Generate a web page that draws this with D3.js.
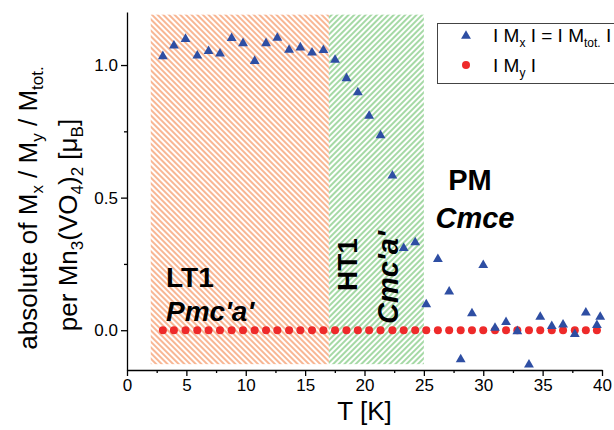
<!DOCTYPE html>
<html>
<head>
<meta charset="UTF-8">
<title>Mn3(VO4)2 moments</title>
<script src="https://cdn.jsdelivr.net/npm/d3@7"></script>
<style>
  body { margin: 0; background: #fff; }
  svg text { font-family: "Liberation Sans", Arial, sans-serif; }
  .axis path, .axis line { stroke: #000; stroke-width: 1.3; }
  .axis text { font-size: 17px; fill: #000; }
</style>
</head>
<body>
<div id="root"></div>
<script>
// temperatures (K)
let temps = [3.02, 3.95, 4.93, 5.92, 6.87, 7.83, 8.81, 9.77, 10.75, 11.71, 12.66, 13.65, 14.6, 15.58, 16.54,
  17.52, 18.48, 19.44, 20.39, 21.35, 22.35, 23.3, 24.27, 25.2, 26.18, 27.13, 28.1, 29.05, 30.0, 30.99,
  31.92, 32.87, 33.85, 34.8, 35.77, 36.72, 37.71, 38.64, 39.57, 39.85]
// |Mx| = |Mtot|
let mx = [1.033, 1.073, 1.098, 1.035, 1.052, 1.043, 1.101, 1.082, 1.015, 1.082, 1.102, 1.057, 1.066, 1.047, 1.056,
  1.019, 0.95, 0.897, 0.808, 0.735, 0.583, 0.309, 0.331, 0.097, 0.268, 0.145, -0.11, 0.063, 0.245, 0.009,
  0.03, -0.004, -0.13, 0.05, 0.015, 0.021, -0.015, 0.066, 0.019, 0.05]
// |My|
let tempsY = temps.slice(0, 39)
let my = [0, 0, 0, 0, 0, 0, 0, 0, 0, 0, 0, 0, 0, 0, 0, 0, 0, 0, 0, 0,
  0, 0, 0, 0, 0, 0, 0, 0, 0, 0, 0, 0, 0, 0, 0, 0, 0, 0, 0]

let xTicks = [0, 5, 10, 15, 20, 25, 30, 35, 40]
let xMinor = [2.5, 7.5, 12.5, 17.5, 22.5, 27.5, 32.5, 37.5]
let yTicks = [0, 0.5, 1.0]
let yMinor = [0.25, 0.75]

// phase regions [from, to]
let phases = [
  { name: "LT1", group: "Pmc'a'", from: 2, to: 17, color: "#f6a479" },
  { name: "HT1", group: "Cmc'a'", from: 17, to: 25, color: "#8fd08f" }
]

let width = 614, height = 430
let margin = { left: 127, right: 12, top: 12, bottom: 60 }

let svg = d3.select("#root").append("svg").attr("width", width).attr("height", height)

let x = d3.scaleLinear().domain([0, 40]).range([margin.left, width - margin.right])
let y = d3.scaleLinear().domain([-0.15, 1.2]).range([height - margin.bottom, margin.top])

// hatch patterns
let defs = svg.append("defs")
phases.forEach(function (p, i) {
  let pat = defs.append("pattern").attr("id", "hatch" + i)
    .attr("patternUnits", "userSpaceOnUse").attr("width", 4).attr("height", 4)
    .attr("patternTransform", i == 0 ? "rotate(-45)" : "rotate(45)")
  pat.append("line").attr("x1", 1).attr("y1", 0).attr("x2", 1).attr("y2", 4)
    .attr("stroke", p.color).attr("stroke-width", 1.6)
})

svg.selectAll("rect.phase").data(phases).enter().append("rect")
  .attr("class", "phase")
  .attr("x", d => x(d.from))
  .attr("width", d => x(d.to) - x(d.from))
  .attr("y", y(1.19))
  .attr("height", y(-0.128) - y(1.19))
  .attr("fill", (d, i) => "url(#hatch" + i + ")")

// axes
svg.append("g").attr("class", "axis")
  .attr("transform", "translate(0," + (height - margin.bottom) + ")")
  .call(d3.axisBottom(x).tickValues(xTicks).tickFormat(d3.format("d")).tickSize(6).tickSizeOuter(0))
svg.append("g").attr("class", "axis")
  .attr("transform", "translate(0," + (height - margin.bottom) + ")")
  .call(d3.axisBottom(x).tickValues(xMinor).tickFormat("").tickSize(3).tickSizeOuter(0))
  .select("path").remove()
svg.append("g").attr("class", "axis")
  .attr("transform", "translate(" + margin.left + ",0)")
  .call(d3.axisLeft(y).tickValues(yTicks).tickFormat(d3.format(".1f")).tickSize(6).tickSizeOuter(0))
svg.append("g").attr("class", "axis")
  .attr("transform", "translate(" + margin.left + ",0)")
  .call(d3.axisLeft(y).tickValues(yMinor).tickFormat("").tickSize(3).tickSizeOuter(0))
  .select("path").remove()
svg.selectAll(".axis text").attr("font-size", 17)

// axis titles
svg.append("text").attr("x", x(20)).attr("y", 420).attr("text-anchor", "middle")
  .attr("font-size", 26).text("T [K]")

let l1 = svg.append("text").attr("transform", "translate(37,208) rotate(-90)")
  .attr("text-anchor", "middle").attr("font-size", 26)
l1.append("tspan").text("absolute of M")
l1.append("tspan").attr("font-size", 17).attr("dy", 6).text("x")
l1.append("tspan").attr("dy", -6).text(" / M")
l1.append("tspan").attr("font-size", 17).attr("dy", 6).text("y")
l1.append("tspan").attr("dy", -6).text(" / M")
l1.append("tspan").attr("font-size", 17).attr("dy", 6).text("tot.")
let l2 = svg.append("text").attr("transform", "translate(77,225) rotate(-90)")
  .attr("text-anchor", "middle").attr("font-size", 26)
l2.append("tspan").text("per Mn")
l2.append("tspan").attr("font-size", 17).attr("dy", 6).text("3")
l2.append("tspan").attr("dy", -6).text("(VO")
l2.append("tspan").attr("font-size", 17).attr("dy", 6).text("4")
l2.append("tspan").attr("dy", -6).text(")")
l2.append("tspan").attr("font-size", 17).attr("dy", 6).text("2")
l2.append("tspan").attr("dy", -6).text(" [\u03bc")
l2.append("tspan").attr("font-size", 17).attr("dy", 6).text("B")
l2.append("tspan").attr("dy", -6).text("]")

// phase labels
svg.append("text").attr("x", 166).attr("y", 287).attr("font-size", 28).attr("font-weight", "bold").text("LT1")
svg.append("text").attr("x", 166).attr("y", 321).attr("font-size", 28).attr("font-weight", "bold")
  .attr("font-style", "italic").text("Pmc'a'")
svg.append("text").attr("transform", "translate(357,291) rotate(-90)")
  .attr("font-size", 28).attr("font-weight", "bold").text("HT1")
svg.append("text").attr("transform", "translate(398,324) rotate(-90)")
  .attr("font-size", 29).attr("font-weight", "bold").attr("font-style", "italic").text("Cmc'a'")
svg.append("text").attr("x", 470).attr("y", 190).attr("text-anchor", "middle")
  .attr("font-size", 29).attr("font-weight", "bold").text("PM")
svg.append("text").attr("x", 475).attr("y", 228).attr("text-anchor", "middle")
  .attr("font-size", 29).attr("font-weight", "bold").attr("font-style", "italic").text("Cmce")

// data
svg.selectAll("circle.my").data(tempsY).enter().append("circle")
  .attr("class", "my")
  .attr("cx", d => x(d))
  .attr("cy", (d, i) => y(my[i]))
  .attr("r", 4)
  .attr("fill", "#ee2a2a")

let tri = d3.symbol().type(d3.symbolTriangle).size(42)
svg.selectAll("path.mx").data(temps).enter().append("path")
  .attr("class", "mx")
  .attr("d", tri)
  .attr("transform", (d, i) => "translate(" + x(d) + "," + y(mx[i]) + ")")
  .attr("fill", "#2e4ea3")

// legend
let lg = svg.append("g")
lg.append("rect").attr("x", 437.5).attr("y", 23.5).attr("width", 190).attr("height", 60)
  .attr("fill", "#fff").attr("stroke", "#444").attr("stroke-width", 1)
lg.append("path").attr("d", tri).attr("transform", "translate(466,36)").attr("fill", "#2e4ea3")
lg.append("circle").attr("cx", 466).attr("cy", 65).attr("r", 4).attr("fill", "#ee2a2a")
let t1 = lg.append("text").attr("x", 493).attr("y", 42).attr("font-size", 19)
t1.append("tspan").text("I M")
t1.append("tspan").attr("font-size", 12).attr("dy", 5).text("x")
t1.append("tspan").attr("dy", -5).text(" I = I M")
t1.append("tspan").attr("font-size", 12).attr("dy", 5).text("tot.")
t1.append("tspan").attr("dy", -5).text(" I")
let t2 = lg.append("text").attr("x", 493).attr("y", 72).attr("font-size", 19)
t2.append("tspan").text("I M")
t2.append("tspan").attr("font-size", 12).attr("dy", 5).text("y")
t2.append("tspan").attr("dy", -5).text(" I")
</script>
</body>
</html>
